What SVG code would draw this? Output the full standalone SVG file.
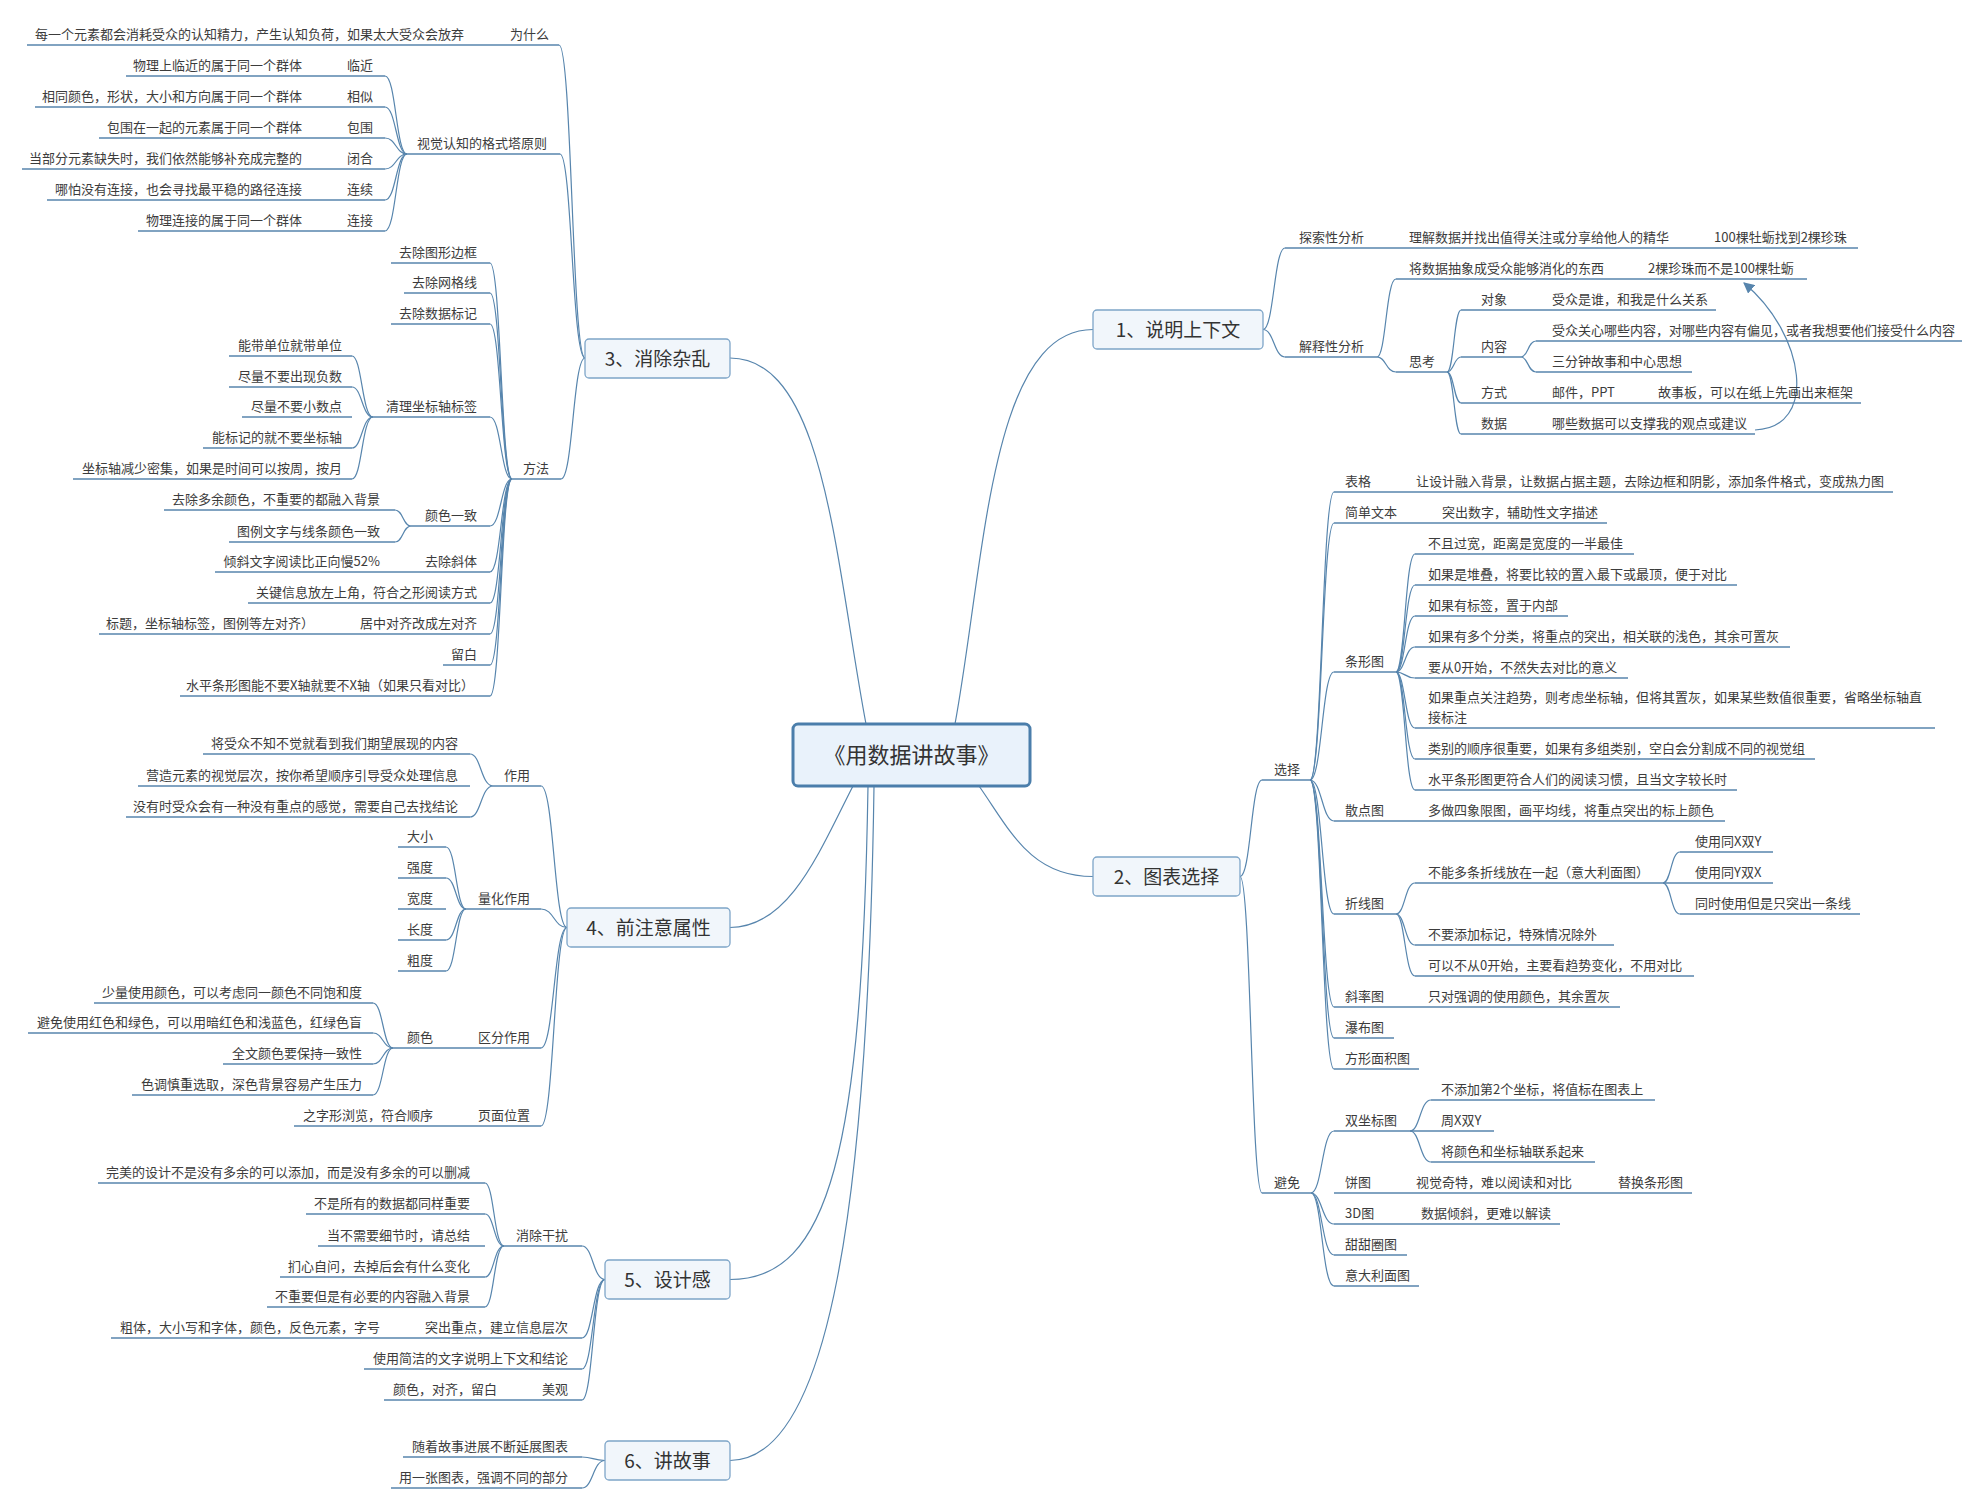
<svg xmlns="http://www.w3.org/2000/svg" width="1984" height="1510" viewBox="0 0 1984 1510">
<style>
text{font-family:"Noto Sans CJK SC","Liberation Sans",sans-serif}
.t{font-size:13px;fill:#3c3c3c}
.e{text-anchor:end}
.u{stroke:#5785ad;stroke-width:1.3;fill:none}
.c{stroke:#5785ad;stroke-width:1.2;fill:none}
.b{fill:#f1f6fb;stroke:#7ea5c8;stroke-width:1.3}
.bt{font-size:19px;text-anchor:middle;fill:#333}
.root{fill:#e9f2fb;stroke:#4b7eab;stroke-width:3}
.rt{font-size:22px;text-anchor:middle;fill:#333}
</style>
<defs>
<marker id="arr" viewBox="0 0 10 10" refX="9" refY="5" markerWidth="11" markerHeight="11" markerUnits="userSpaceOnUse" orient="auto"><path d="M0,0 L10,5 L0,10 z" fill="#5785ad"/></marker>
</defs>
<rect width="1984" height="1510" fill="#ffffff"/>
<g id="connectors">
<path class="c" d="M866,724 C835,560 825,358 730,358"/>
<path class="c" d="M955,724 C985,560 990,329.5 1093,329.5"/>
<path class="c" d="M979,786 C1010,830 1030,876.5 1093,876.5"/>
<path class="c" d="M853,786 C820,850 790,927.5 730,927.5"/>
<path class="c" d="M868,786 C862,1150 830,1279.5 730,1279.5"/>
<path class="c" d="M874,786 C868,1200 830,1460.5 730,1460.5"/>
<path class="c" d="M585,358 C572,358 572,45 559,45"/>
<path class="c" d="M585,358 C572,358 572,154 560,154"/>
<path class="c" d="M585,358 C573,358 573,479 561,479"/>
<path class="c" d="M407,154 C396,154 396,76 385,76"/>
<path class="c" d="M407,154 C396,154 396,107 385,107"/>
<path class="c" d="M407,154 C396,154 396,138 385,138"/>
<path class="c" d="M407,154 C396,154 396,169 385,169"/>
<path class="c" d="M407,154 C396,154 396,200 385,200"/>
<path class="c" d="M407,154 C396,154 396,231 385,231"/>
<path class="c" d="M512,479 C501,479 501,263 490,263"/>
<path class="c" d="M512,479 C501,479 501,293 490,293"/>
<path class="c" d="M512,479 C501,479 501,324 490,324"/>
<path class="c" d="M512,479 C501,479 501,417 490,417"/>
<path class="c" d="M512,479 C501,479 501,526 490,526"/>
<path class="c" d="M512,479 C501,479 501,572 490,572"/>
<path class="c" d="M512,479 C501,479 501,603 490,603"/>
<path class="c" d="M512,479 C501,479 501,634 490,634"/>
<path class="c" d="M512,479 C501,479 501,665 490,665"/>
<path class="c" d="M512,479 C501,479 501,696 490,696"/>
<path class="c" d="M373,417 C362,417 362,356 352,356"/>
<path class="c" d="M373,417 C362,417 362,387 352,387"/>
<path class="c" d="M373,417 C362,417 362,448 352,448"/>
<path class="c" d="M373,417 C362,417 362,479 352,479"/>
<path class="c" d="M411,526 C403,526 403,510 395,510"/>
<path class="c" d="M411,526 C403,526 403,542 395,542"/>
<path class="c" d="M567,927.5 C554,927.5 554,786 541,786"/>
<path class="c" d="M567,927.5 C554,927.5 554,909 541,909"/>
<path class="c" d="M567,927.5 C554,927.5 554,1048 541,1048"/>
<path class="c" d="M567,927.5 C554,927.5 554,1126 541,1126"/>
<path class="c" d="M493,786 C481,786 481,754 470,754"/>
<path class="c" d="M493,786 C481,786 481,817 470,817"/>
<path class="c" d="M466,909 C456,909 456,847 446,847"/>
<path class="c" d="M466,909 C456,909 456,878 446,878"/>
<path class="c" d="M466,909 C456,909 456,940 446,940"/>
<path class="c" d="M466,909 C456,909 456,971 446,971"/>
<path class="c" d="M393,1048 C383,1048 383,1003 373,1003"/>
<path class="c" d="M393,1048 C383,1048 383,1033 373,1033"/>
<path class="c" d="M393,1048 C383,1048 383,1064 373,1064"/>
<path class="c" d="M393,1048 C383,1048 383,1095 373,1095"/>
<path class="c" d="M605,1279.5 C593,1279.5 593,1246 582,1246"/>
<path class="c" d="M605,1279.5 C593,1279.5 593,1338 582,1338"/>
<path class="c" d="M605,1279.5 C593,1279.5 593,1369 582,1369"/>
<path class="c" d="M605,1279.5 C593,1279.5 593,1400 582,1400"/>
<path class="c" d="M504,1246 C494,1246 494,1183 485,1183"/>
<path class="c" d="M504,1246 C494,1246 494,1214 485,1214"/>
<path class="c" d="M504,1246 C494,1246 494,1277 485,1277"/>
<path class="c" d="M504,1246 C494,1246 494,1307 485,1307"/>
<path class="c" d="M605,1460.5 C593,1460.5 593,1457 582,1457"/>
<path class="c" d="M605,1460.5 C593,1460.5 593,1488 582,1488"/>
<path class="c" d="M1263,329.5 C1274,329.5 1274,248 1285,248"/>
<path class="c" d="M1263,329.5 C1274,329.5 1274,357 1285,357"/>
<path class="c" d="M1377,357 C1386,357 1386,279 1396,279"/>
<path class="c" d="M1377,357 C1386,357 1386,372 1396,372"/>
<path class="c" d="M1447,372 C1454,372 1454,310 1461,310"/>
<path class="c" d="M1447,372 C1454,372 1454,357 1461,357"/>
<path class="c" d="M1447,372 C1454,372 1454,403 1461,403"/>
<path class="c" d="M1447,372 C1454,372 1454,434 1461,434"/>
<path class="c" d="M1521,357 C1528,357 1528,341 1536,341"/>
<path class="c" d="M1521,357 C1528,357 1528,372 1536,372"/>
<path class="c" d="M1240,876.5 C1251,876.5 1251,780 1262,780"/>
<path class="c" d="M1240,876.5 C1251,876.5 1251,1193 1262,1193"/>
<path class="c" d="M1310,780 C1322,780 1322,492 1334,492"/>
<path class="c" d="M1310,780 C1322,780 1322,523 1334,523"/>
<path class="c" d="M1310,780 C1322,780 1322,672 1334,672"/>
<path class="c" d="M1310,780 C1322,780 1322,821 1334,821"/>
<path class="c" d="M1310,780 C1322,780 1322,914 1334,914"/>
<path class="c" d="M1310,780 C1322,780 1322,1007 1334,1007"/>
<path class="c" d="M1310,780 C1322,780 1322,1038 1334,1038"/>
<path class="c" d="M1310,780 C1322,780 1322,1069 1334,1069"/>
<path class="c" d="M1396,672 C1405,672 1405,554 1415,554"/>
<path class="c" d="M1396,672 C1405,672 1405,585 1415,585"/>
<path class="c" d="M1396,672 C1405,672 1405,616 1415,616"/>
<path class="c" d="M1396,672 C1405,672 1405,647 1415,647"/>
<path class="c" d="M1396,672 C1405,672 1405,678 1415,678"/>
<path class="c" d="M1396,672 C1405,672 1405,728 1415,728"/>
<path class="c" d="M1396,672 C1405,672 1405,759 1415,759"/>
<path class="c" d="M1396,672 C1405,672 1405,790 1415,790"/>
<path class="c" d="M1396,914 C1405,914 1405,883 1415,883"/>
<path class="c" d="M1396,914 C1405,914 1405,945 1415,945"/>
<path class="c" d="M1396,914 C1405,914 1405,976 1415,976"/>
<path class="c" d="M1663,883 C1671,883 1671,852 1680,852"/>
<path class="c" d="M1663,883 C1671,883 1671,914 1680,914"/>
<path class="c" d="M1311,1193 C1322,1193 1322,1131 1334,1131"/>
<path class="c" d="M1311,1193 C1322,1193 1322,1224 1334,1224"/>
<path class="c" d="M1311,1193 C1322,1193 1322,1255 1334,1255"/>
<path class="c" d="M1311,1193 C1322,1193 1322,1286 1334,1286"/>
<path class="c" d="M1410,1131 C1420,1131 1420,1100 1431,1100"/>
<path class="c" d="M1410,1131 C1420,1131 1420,1162 1431,1162"/>
<path class="c" d="M1755,430 C1818,428 1806,335 1744,283" marker-end="url(#arr)"/>
</g>
<g id="root"><rect class="root" x="793" y="724" width="237" height="62" rx="5"/><text class="rt" x="911.5" y="763">《用数据讲故事》</text></g>
<g id="b1"><rect class="b" x="1093" y="310" width="170" height="39" rx="4"/><text class="bt" x="1178" y="336.5">1、说明上下文</text></g>
<g id="b2"><rect class="b" x="1093" y="857" width="147" height="39" rx="4"/><text class="bt" x="1166.5" y="883.5">2、图表选择</text></g>
<g id="b3"><rect class="b" x="585" y="339" width="145" height="39" rx="4"/><text class="bt" x="657.5" y="365.5">3、消除杂乱</text></g>
<g id="b4"><rect class="b" x="567" y="908" width="163" height="39" rx="4"/><text class="bt" x="648.5" y="934.5">4、前注意属性</text></g>
<g id="b5"><rect class="b" x="605" y="1260" width="125" height="39" rx="4"/><text class="bt" x="667.5" y="1286.5">5、设计感</text></g>
<g id="b6"><rect class="b" x="605" y="1441" width="125" height="39" rx="4"/><text class="bt" x="667.5" y="1467.5">6、讲故事</text></g>

<g id="n3-why"><path class="u" d="M500,45H559"/><text class="t e" x="549" y="39">为什么</text></g>
<g id="n3-why-a"><path class="u" d="M27,45H500"/><text class="t e" x="464" y="39">每一个元素都会消耗受众的认知精力，产生认知负荷，如果太大受众会放弃</text></g>
<g id="n3-gestalt"><path class="u" d="M407,154H560"/><text class="t e" x="547" y="148">视觉认知的格式塔原则</text></g>
<g id="n3-g1"><path class="u" d="M340,76H385"/><text class="t e" x="373" y="70">临近</text></g>
<g id="n3-g1a"><path class="u" d="M126,76H340"/><text class="t e" x="302" y="70">物理上临近的属于同一个群体</text></g>
<g id="n3-g2"><path class="u" d="M340,107H385"/><text class="t e" x="373" y="101">相似</text></g>
<g id="n3-g2a"><path class="u" d="M35,107H340"/><text class="t e" x="302" y="101">相同颜色，形状，大小和方向属于同一个群体</text></g>
<g id="n3-g3"><path class="u" d="M340,138H385"/><text class="t e" x="373" y="132">包围</text></g>
<g id="n3-g3a"><path class="u" d="M99,138H340"/><text class="t e" x="302" y="132">包围在一起的元素属于同一个群体</text></g>
<g id="n3-g4"><path class="u" d="M340,169H385"/><text class="t e" x="373" y="163">闭合</text></g>
<g id="n3-g4a"><path class="u" d="M22,169H340"/><text class="t e" x="302" y="163">当部分元素缺失时，我们依然能够补充成完整的</text></g>
<g id="n3-g5"><path class="u" d="M340,200H385"/><text class="t e" x="373" y="194">连续</text></g>
<g id="n3-g5a"><path class="u" d="M47,200H340"/><text class="t e" x="302" y="194">哪怕没有连接，也会寻找最平稳的路径连接</text></g>
<g id="n3-g6"><path class="u" d="M340,231H385"/><text class="t e" x="373" y="225">连接</text></g>
<g id="n3-g6a"><path class="u" d="M138,231H340"/><text class="t e" x="302" y="225">物理连接的属于同一个群体</text></g>
<g id="n3-method"><path class="u" d="M512,479H561"/><text class="t e" x="549" y="473">方法</text></g>
<g id="n3-m1"><path class="u" d="M391,263H490"/><text class="t e" x="477" y="257">去除图形边框</text></g>
<g id="n3-m2"><path class="u" d="M404,293H490"/><text class="t e" x="477" y="287">去除网格线</text></g>
<g id="n3-m3"><path class="u" d="M391,324H490"/><text class="t e" x="477" y="318">去除数据标记</text></g>
<g id="n3-m4"><path class="u" d="M373,417H490"/><text class="t e" x="477" y="411">清理坐标轴标签</text></g>
<g id="n3-m4a"><path class="u" d="M229,356H352"/><text class="t e" x="342" y="350">能带单位就带单位</text></g>
<g id="n3-m4b"><path class="u" d="M229,387H352"/><text class="t e" x="342" y="381">尽量不要出现负数</text></g>
<g id="n3-m4c"><path class="u" d="M242,417H352"/><text class="t e" x="342" y="411">尽量不要小数点</text></g>
<g id="n3-m4d"><path class="u" d="M203,448H352"/><text class="t e" x="342" y="442">能标记的就不要坐标轴</text></g>
<g id="n3-m4e"><path class="u" d="M73,479H352"/><text class="t e" x="342" y="473">坐标轴减少密集，如果是时间可以按周，按月</text></g>
<g id="n3-m5"><path class="u" d="M411,526H490"/><text class="t e" x="477" y="520">颜色一致</text></g>
<g id="n3-m5a"><path class="u" d="M164,510H395"/><text class="t e" x="380" y="504">去除多余颜色，不重要的都融入背景</text></g>
<g id="n3-m5b"><path class="u" d="M229,542H395"/><text class="t e" x="380" y="536">图例文字与线条颜色一致</text></g>
<g id="n3-m6"><path class="u" d="M412,572H490"/><text class="t e" x="477" y="566">去除斜体</text></g>
<g id="n3-m6a"><path class="u" d="M215,572H412"/><text class="t e" x="380" y="566">倾斜文字阅读比正向慢52%</text></g>
<g id="n3-m7"><path class="u" d="M248,603H490"/><text class="t e" x="477" y="597">关键信息放左上角，符合之形阅读方式</text></g>
<g id="n3-m8"><path class="u" d="M352,634H490"/><text class="t e" x="477" y="628">居中对齐改成左对齐</text></g>
<g id="n3-m8a"><path class="u" d="M99,634H352"/><text class="t e" x="314" y="628">标题，坐标轴标签，图例等左对齐）</text></g>
<g id="n3-m9"><path class="u" d="M443,665H490"/><text class="t e" x="477" y="659">留白</text></g>
<g id="n3-m10"><path class="u" d="M180,696H490"/><text class="t e" x="474" y="690">水平条形图能不要X轴就要不X轴（如果只看对比）</text></g>

<g id="n4-use"><path class="u" d="M493,786H541"/><text class="t e" x="530" y="780">作用</text></g>
<g id="n4-use-a"><path class="u" d="M203,754H470"/><text class="t e" x="458" y="748">将受众不知不觉就看到我们期望展现的内容</text></g>
<g id="n4-use-b"><path class="u" d="M138,786H470"/><text class="t e" x="458" y="780">营造元素的视觉层次，按你希望顺序引导受众处理信息</text></g>
<g id="n4-use-c"><path class="u" d="M126,817H470"/><text class="t e" x="458" y="811">没有时受众会有一种没有重点的感觉，需要自己去找结论</text></g>
<g id="n4-quant"><path class="u" d="M466,909H541"/><text class="t e" x="530" y="903">量化作用</text></g>
<g id="n4-q1"><path class="u" d="M398,847H446"/><text class="t e" x="433" y="841">大小</text></g>
<g id="n4-q2"><path class="u" d="M398,878H446"/><text class="t e" x="433" y="872">强度</text></g>
<g id="n4-q3"><path class="u" d="M398,909H446"/><text class="t e" x="433" y="903">宽度</text></g>
<g id="n4-q4"><path class="u" d="M398,940H446"/><text class="t e" x="433" y="934">长度</text></g>
<g id="n4-q5"><path class="u" d="M398,971H446"/><text class="t e" x="433" y="965">粗度</text></g>
<g id="n4-dist"><path class="u" d="M470,1048H541"/><text class="t e" x="530" y="1042">区分作用</text></g>
<g id="n4-color"><path class="u" d="M393,1048H470"/><text class="t e" x="433" y="1042">颜色</text></g>
<g id="n4-c1"><path class="u" d="M94,1003H373"/><text class="t e" x="362" y="997">少量使用颜色，可以考虑同一颜色不同饱和度</text></g>
<g id="n4-c2"><path class="u" d="M28,1033H373"/><text class="t e" x="362" y="1027">避免使用红色和绿色，可以用暗红色和浅蓝色，红绿色盲</text></g>
<g id="n4-c3"><path class="u" d="M223,1064H373"/><text class="t e" x="362" y="1058">全文颜色要保持一致性</text></g>
<g id="n4-c4"><path class="u" d="M132,1095H373"/><text class="t e" x="362" y="1089">色调慎重选取，深色背景容易产生压力</text></g>
<g id="n4-page"><path class="u" d="M470,1126H541"/><text class="t e" x="530" y="1120">页面位置</text></g>
<g id="n4-page-a"><path class="u" d="M294,1126H470"/><text class="t e" x="433" y="1120">之字形浏览，符合顺序</text></g>

<g id="n5-clear"><path class="u" d="M504,1246H582"/><text class="t e" x="568" y="1240">消除干扰</text></g>
<g id="n5-c1"><path class="u" d="M98,1183H485"/><text class="t e" x="470" y="1177">完美的设计不是没有多余的可以添加，而是没有多余的可以删减</text></g>
<g id="n5-c2"><path class="u" d="M306,1214H485"/><text class="t e" x="470" y="1208">不是所有的数据都同样重要</text></g>
<g id="n5-c3"><path class="u" d="M318,1246H485"/><text class="t e" x="470" y="1240">当不需要细节时，请总结</text></g>
<g id="n5-c4"><path class="u" d="M280,1277H485"/><text class="t e" x="470" y="1271">扪心自问，去掉后会有什么变化</text></g>
<g id="n5-c5"><path class="u" d="M267,1307H485"/><text class="t e" x="470" y="1301">不重要但是有必要的内容融入背景</text></g>
<g id="n5-focus"><path class="u" d="M416,1338H582"/><text class="t e" x="568" y="1332">突出重点，建立信息层次</text></g>
<g id="n5-focus-a"><path class="u" d="M111,1338H416"/><text class="t e" x="380" y="1332">粗体，大小写和字体，颜色，反色元素，字号</text></g>
<g id="n5-text"><path class="u" d="M364,1369H582"/><text class="t e" x="568" y="1363">使用简洁的文字说明上下文和结论</text></g>
<g id="n5-beauty"><path class="u" d="M532,1400H582"/><text class="t e" x="568" y="1394">美观</text></g>
<g id="n5-beauty-a"><path class="u" d="M384,1400H532"/><text class="t e" x="497" y="1394">颜色，对齐，留白</text></g>

<g id="n6-a"><path class="u" d="M403,1457H582"/><text class="t e" x="568" y="1451">随着故事进展不断延展图表</text></g>
<g id="n6-b"><path class="u" d="M391,1488H582"/><text class="t e" x="568" y="1482">用一张图表，强调不同的部分</text></g>

<g id="n1-explore"><path class="u" d="M1285,248H1400"/><text class="t" x="1299" y="242">探索性分析</text></g>
<g id="n1-explore-a"><path class="u" d="M1400,248H1705"/><text class="t" x="1409" y="242">理解数据并找出值得关注或分享给他人的精华</text></g>
<g id="n1-explore-b"><path class="u" d="M1705,248H1858"/><text class="t" x="1714" y="242">100棵牡蛎找到2棵珍珠</text></g>
<g id="n1-explain"><path class="u" d="M1285,357H1377"/><text class="t" x="1299" y="351">解释性分析</text></g>
<g id="n1-abs"><path class="u" d="M1396,279H1640"/><text class="t" x="1409" y="273">将数据抽象成受众能够消化的东西</text></g>
<g id="n1-abs-a"><path class="u" d="M1640,279H1807"/><text class="t" x="1648" y="273">2棵珍珠而不是100棵牡蛎</text></g>
<g id="n1-think"><path class="u" d="M1396,372H1447"/><text class="t" x="1409" y="366">思考</text></g>
<g id="n1-obj"><path class="u" d="M1461,310H1544"/><text class="t" x="1481" y="304">对象</text></g>
<g id="n1-obj-a"><path class="u" d="M1544,310H1716"/><text class="t" x="1552" y="304">受众是谁，和我是什么关系</text></g>
<g id="n1-content"><path class="u" d="M1461,357H1521"/><text class="t" x="1481" y="351">内容</text></g>
<g id="n1-content-a"><path class="u" d="M1536,341H1962"/><text class="t" x="1552" y="335">受众关心哪些内容，对哪些内容有偏见，或者我想要他们接受什么内容</text></g>
<g id="n1-content-b"><path class="u" d="M1536,372H1692"/><text class="t" x="1552" y="366">三分钟故事和中心思想</text></g>
<g id="n1-way"><path class="u" d="M1461,403H1544"/><text class="t" x="1481" y="397">方式</text></g>
<g id="n1-way-a"><path class="u" d="M1544,403H1650"/><text class="t" x="1552" y="397">邮件，PPT</text></g>
<g id="n1-way-b"><path class="u" d="M1650,403H1861"/><text class="t" x="1658" y="397">故事板，可以在纸上先画出来框架</text></g>
<g id="n1-data"><path class="u" d="M1461,434H1544"/><text class="t" x="1481" y="428">数据</text></g>
<g id="n1-data-a"><path class="u" d="M1544,434H1755"/><text class="t" x="1552" y="428">哪些数据可以支撑我的观点或建议</text></g>

<g id="n2-choose"><path class="u" d="M1262,780H1310"/><text class="t" x="1274" y="774">选择</text></g>
<g id="n2-table"><path class="u" d="M1334,492H1408"/><text class="t" x="1345" y="486">表格</text></g>
<g id="n2-table-a"><path class="u" d="M1408,492H1893"/><text class="t" x="1416" y="486">让设计融入背景，让数据占据主题，去除边框和阴影，添加条件格式，变成热力图</text></g>
<g id="n2-text"><path class="u" d="M1334,523H1434"/><text class="t" x="1345" y="517">简单文本</text></g>
<g id="n2-text-a"><path class="u" d="M1434,523H1607"/><text class="t" x="1442" y="517">突出数字，辅助性文字描述</text></g>
<g id="n2-bar"><path class="u" d="M1334,672H1396"/><text class="t" x="1345" y="666">条形图</text></g>
<g id="n2-bar1"><path class="u" d="M1415,554H1634"/><text class="t" x="1428" y="548">不且过宽，距离是宽度的一半最佳</text></g>
<g id="n2-bar2"><path class="u" d="M1415,585H1737"/><text class="t" x="1428" y="579">如果是堆叠，将要比较的置入最下或最顶，便于对比</text></g>
<g id="n2-bar3"><path class="u" d="M1415,616H1568"/><text class="t" x="1428" y="610">如果有标签，置于内部</text></g>
<g id="n2-bar4"><path class="u" d="M1415,647H1790"/><text class="t" x="1428" y="641">如果有多个分类，将重点的突出，相关联的浅色，其余可置灰</text></g>
<g id="n2-bar5"><path class="u" d="M1415,678H1628"/><text class="t" x="1428" y="672">要从0开始，不然失去对比的意义</text></g>
<g id="n2-bar6"><path class="u" d="M1415,728H1935"/><text class="t" x="1428" y="702">如果重点关注趋势，则考虑坐标轴，但将其置灰，如果某些数值很重要，省略坐标轴直</text><text class="t" x="1428" y="722">接标注</text></g>
<g id="n2-bar7"><path class="u" d="M1415,759H1815"/><text class="t" x="1428" y="753">类别的顺序很重要，如果有多组类别，空白会分割成不同的视觉组</text></g>
<g id="n2-bar8"><path class="u" d="M1415,790H1737"/><text class="t" x="1428" y="784">水平条形图更符合人们的阅读习惯，且当文字较长时</text></g>
<g id="n2-scatter"><path class="u" d="M1334,821H1420"/><text class="t" x="1345" y="815">散点图</text></g>
<g id="n2-scatter-a"><path class="u" d="M1420,821H1725"/><text class="t" x="1428" y="815">多做四象限图，画平均线，将重点突出的标上颜色</text></g>
<g id="n2-line"><path class="u" d="M1334,914H1396"/><text class="t" x="1345" y="908">折线图</text></g>
<g id="n2-line1"><path class="u" d="M1415,883H1663"/><text class="t" x="1428" y="877">不能多条折线放在一起（意大利面图）</text></g>
<g id="n2-line1a"><path class="u" d="M1680,852H1773"/><text class="t" x="1695" y="846">使用同X双Y</text></g>
<g id="n2-line1b"><path class="u" d="M1663,883H1773"/><text class="t" x="1695" y="877">使用同Y双X</text></g>
<g id="n2-line1c"><path class="u" d="M1680,914H1860"/><text class="t" x="1695" y="908">同时使用但是只突出一条线</text></g>
<g id="n2-line2"><path class="u" d="M1415,945H1614"/><text class="t" x="1428" y="939">不要添加标记，特殊情况除外</text></g>
<g id="n2-line3"><path class="u" d="M1415,976H1694"/><text class="t" x="1428" y="970">可以不从0开始，主要看趋势变化，不用对比</text></g>
<g id="n2-slope"><path class="u" d="M1334,1007H1420"/><text class="t" x="1345" y="1001">斜率图</text></g>
<g id="n2-slope-a"><path class="u" d="M1420,1007H1620"/><text class="t" x="1428" y="1001">只对强调的使用颜色，其余置灰</text></g>
<g id="n2-fall"><path class="u" d="M1334,1038H1394"/><text class="t" x="1345" y="1032">瀑布图</text></g>
<g id="n2-tree"><path class="u" d="M1334,1069H1419"/><text class="t" x="1345" y="1063">方形面积图</text></g>
<g id="n2-avoid"><path class="u" d="M1262,1193H1311"/><text class="t" x="1274" y="1187">避免</text></g>
<g id="n2-dual"><path class="u" d="M1334,1131H1410"/><text class="t" x="1345" y="1125">双坐标图</text></g>
<g id="n2-dual1"><path class="u" d="M1431,1100H1655"/><text class="t" x="1441" y="1094">不添加第2个坐标，将值标在图表上</text></g>
<g id="n2-dual2"><path class="u" d="M1410,1131H1494"/><text class="t" x="1441" y="1125">周X双Y</text></g>
<g id="n2-dual3"><path class="u" d="M1431,1162H1595"/><text class="t" x="1441" y="1156">将颜色和坐标轴联系起来</text></g>
<g id="n2-pie"><path class="u" d="M1334,1193H1408"/><text class="t" x="1345" y="1187">饼图</text></g>
<g id="n2-pie-a"><path class="u" d="M1408,1193H1610"/><text class="t" x="1416" y="1187">视觉奇特，难以阅读和对比</text></g>
<g id="n2-pie-b"><path class="u" d="M1610,1193H1692"/><text class="t" x="1618" y="1187">替换条形图</text></g>
<g id="n2-3d"><path class="u" d="M1334,1224H1413"/><text class="t" x="1345" y="1218">3D图</text></g>
<g id="n2-3d-a"><path class="u" d="M1413,1224H1560"/><text class="t" x="1421" y="1218">数据倾斜，更难以解读</text></g>
<g id="n2-donut"><path class="u" d="M1334,1255H1407"/><text class="t" x="1345" y="1249">甜甜圈图</text></g>
<g id="n2-spag"><path class="u" d="M1334,1286H1419"/><text class="t" x="1345" y="1280">意大利面图</text></g>
</svg>
